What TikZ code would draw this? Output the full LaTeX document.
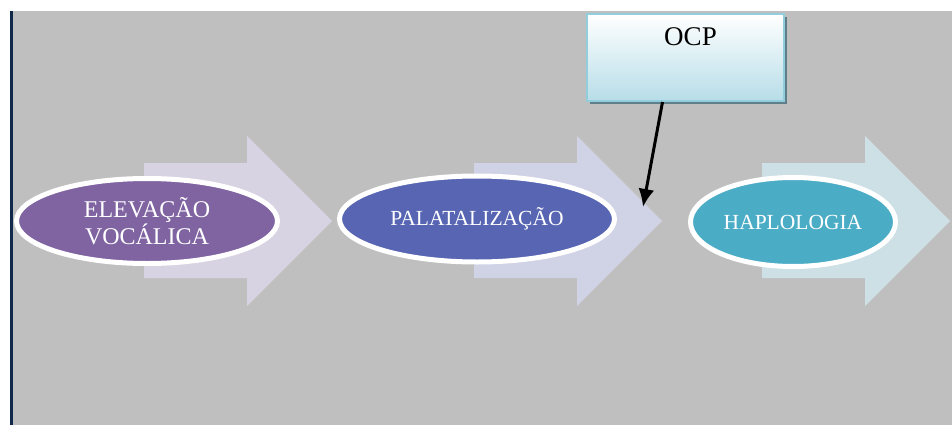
\documentclass[tikz,border=0pt]{standalone}
\usepackage{fontspec}
\setmainfont{Liberation Serif}
\usetikzlibrary{shapes.geometric,shadows,arrows.meta,calc}
\definecolor{fundo}{HTML}{BFBFBF}
\definecolor{barra}{HTML}{10284A}
\definecolor{seta1}{HTML}{D8D3E2}
\definecolor{seta2}{HTML}{D0D2E5}
\definecolor{seta3}{HTML}{CDE0E6}
\definecolor{roxo}{HTML}{8064A2}
\definecolor{anil}{HTML}{5765B3}
\definecolor{turq}{HTML}{4BACC6}
\definecolor{caixa_borda}{HTML}{92CDDC}
\definecolor{caixa_fundo}{HTML}{B7DDE8}
\definecolor{sombra}{HTML}{5E7E8A}
\tikzset{
  x=1pt, y=-1pt,
  elip/.style = {ellipse, draw=white, line width=5pt, text=white, align=center, inner sep=0pt,
    font=\fontsize{21.5}{24}\selectfont},
  elip_roxo/.style = {elip, fill=roxo, minimum width=261pt, minimum height=85pt,
    font=\fontsize{24}{24}\selectfont},
  elip_anil/.style = {elip, fill=anil, minimum width=275pt, minimum height=86pt},
  elip_turq/.style = {elip, fill=turq, minimum width=205pt, minimum height=89pt},
  caixa/.style = {rectangle, draw=caixa_borda, line width=2pt, top color=white, bottom color=caixa_fundo,
    minimum width=197pt, minimum height=87pt, inner sep=0pt, text height=18pt, text depth=42pt,
    font=\fontsize{27}{30}\selectfont,
    drop shadow={shadow xshift=3pt, shadow yshift=-3pt, fill=sombra, opacity=1}},
  conector/.style = {line width=3pt, -{Latex[length=18pt,width=16pt]}}
}
\begin{document}
\begin{tikzpicture}
\useasboundingbox (0,0) rectangle (952,425);
\fill[fundo] (13,11) rectangle (952,425);
\fill[barra] (10,11) rectangle (13,425);
% setas de fundo
\foreach \x/\cor in {144/seta1,474/seta2,762/seta3}
  \fill[\cor] (\x,163) -- (\x+103,163) -- (\x+103,136) -- (\x+188,221)
    -- (\x+103,306) -- (\x+103,278) -- (\x,278) -- cycle;
% processos
\node [elip_roxo] (elevacao) at (147,221) {ELEVAÇÃO\\VOCÁLICA};
\node [elip_anil] (palatal) at (477,219) {PALATALIZAÇÃO};
\node [elip_turq] (haplo) at (793,222) {HAPLOLOGIA};
% restricao
\node [caixa] (ocp) at (685.5,57.5) {\hspace*{10pt}OCP};
\coordinate (alvo) at (643,207);
\draw [conector] ($(ocp.south)+(-23,0)$) -- (alvo);
\end{tikzpicture}
\end{document}
